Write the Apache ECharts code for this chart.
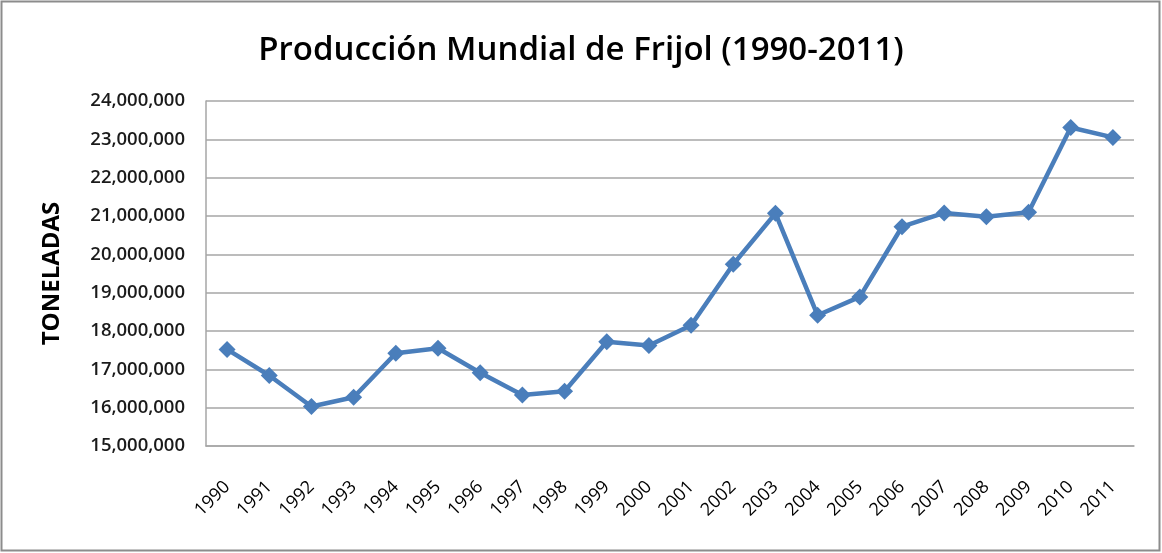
<!DOCTYPE html>
<html>
<head>
<meta charset="utf-8">
<script src="https://cdn.jsdelivr.net/npm/echarts@6/dist/echarts.min.js"></script>
<style>
  html, body { margin: 0; padding: 0; background: #fff; }
  #chart { width: 1162px; height: 553px; }
</style>
</head>
<body>
<div id="chart"></div>
<script>
// Años de la serie
const years = ['1990','1991','1992','1993','1994','1995','1996','1997','1998','1999','2000',
  '2001','2002','2003','2004','2005','2006','2007','2008','2009','2010','2011'];

// Producción mundial de frijol, en toneladas
const production = [17520000, 16840000, 16030000, 16270000, 17420000, 17550000, 16910000,
  16330000, 16430000, 17720000, 17620000, 18150000, 19740000, 21070000, 18410000,
  18890000, 20720000, 21080000, 20980000, 21100000, 23310000, 23050000];

// Escala del eje de valores
const yMin = 15000000;
const yMax = 24000000;
const yStep = 1000000;

const chart = echarts.init(document.getElementById('chart'), null, { renderer: 'canvas' });

const fmt = v => String(v).replace(/\B(?=(\d{3})+(?!\d))/g, ',');

chart.setOption({
  animation: false,
  backgroundColor: '#ffffff',
  title: {
    text: 'Producción Mundial de Frijol (1990-2011)',
    left: 'center',
    top: 29,
    textStyle: {
      fontFamily: 'Open Sans',
      fontSize: 33,
      fontWeight: 600,
      color: '#000000'
    }
  },
  graphic: [{
    type: 'rect',
    shape: { x: 1.5, y: 1.5, width: 1158, height: 549 },
    style: { fill: 'none', stroke: '#8c8c8c', lineWidth: 2 },
    silent: true
  }],
  grid: { left: 206, right: 28, top: 101, bottom: 107 },
  xAxis: {
    type: 'category',
    data: years,
    boundaryGap: true,
    axisLine: { lineStyle: { color: '#a6a6a6', width: 1.5 } },
    axisTick: { show: false },
    axisLabel: {
      rotate: 45,
      margin: 38,
      interval: 0,
      fontFamily: 'Open Sans',
      fontSize: 18,
      color: '#000000'
    }
  },
  yAxis: {
    type: 'value',
    min: yMin,
    max: yMax,
    interval: yStep,
    name: 'TONELADAS',
    nameLocation: 'middle',
    nameGap: 142,
    nameRotate: 90,
    nameTextStyle: {
      fontFamily: 'Open Sans',
      fontSize: 24,
      fontWeight: 'bold',
      color: '#000000'
    },
    axisLine: { show: true, lineStyle: { color: '#a6a6a6', width: 1.5 } },
    axisTick: { show: false },
    splitLine: { lineStyle: { color: '#a6a6a6', width: 1.5 } },
    axisLabel: {
      margin: 21,
      fontFamily: 'Open Sans',
      fontSize: 18.5,
      fontWeight: 600,
      color: '#1a1a1a',
      formatter: fmt
    }
  },
  series: [{
    type: 'line',
    data: production,
    symbol: 'diamond',
    symbolSize: 17,
    lineStyle: { color: '#4a7ebb', width: 4.5 },
    itemStyle: { color: '#4a7ebb' }
  }]
});
</script>
</body>
</html>
